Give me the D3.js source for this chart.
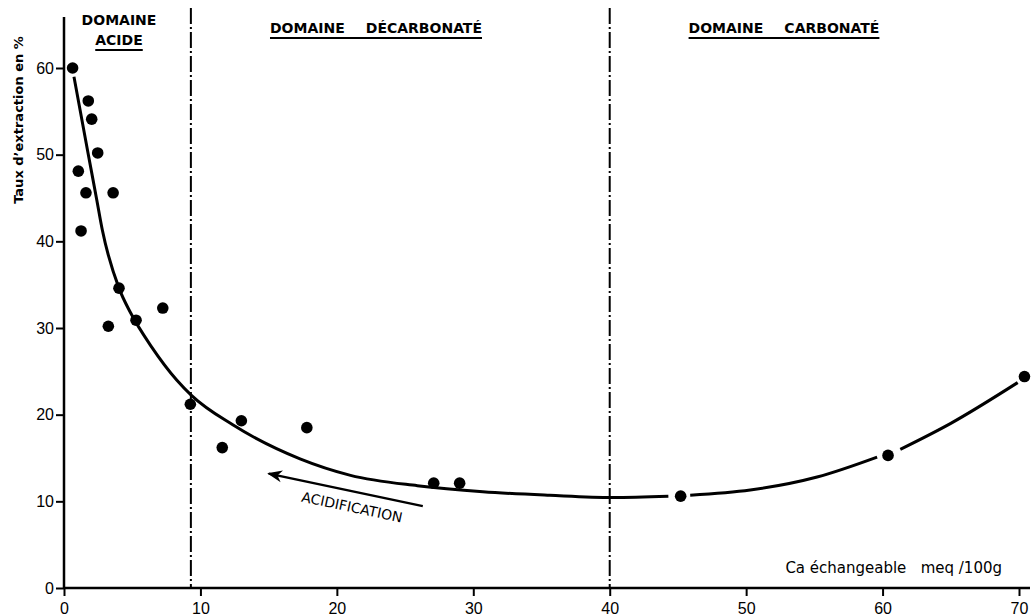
<!DOCTYPE html>
<html>
<head>
<meta charset="utf-8">
<script src="https://cdn.jsdelivr.net/npm/d3@7"></script>
<style>
  body { margin: 0; background: #fff; }
  svg { display: block; font-family: "DejaVu Sans", "Liberation Sans", sans-serif; }
</style>
</head>
<body>
<script>
(function() {
  'use strict';

  // measured points: Ca echangeable (meq/100g) and taux d'extraction (%)
  const caValues = [0.63, 1.78, 2.03, 2.47, 1.05, 1.61, 3.6, 1.25, 4.03, 3.25, 5.28, 7.24,
    9.26, 13.0, 11.6, 17.8, 27.1, 29.0, 45.2, 60.4, 70.4];
  const tauxValues = [60.0, 56.2, 54.1, 50.2, 48.1, 45.6, 45.6, 41.2, 34.6, 30.2, 30.9, 32.3,
    21.2, 19.3, 16.2, 18.5, 12.1, 12.1, 10.6, 15.3, 24.4];

  // fitted curve, split where the drawing leaves a gap around a point
  const curveSeg1 = [[0.73, 59.0], [1.76, 50.2], [2.4, 44.8], [2.81, 41.3],
    [4.03, 34.6], [4.9, 31.7], [6.43, 27.8], [8.26, 24.0], [9.36, 22.2], [12.4, 18.8],
    [17.3, 14.9], [21.0, 13.0], [25.9, 11.8], [30.7, 11.1], [35.6, 10.7],
    [40.2, 10.45], [44.3, 10.6]];
  const curveSeg2 = [[45.9, 10.7], [50.3, 11.3], [55.2, 12.8], [59.6, 15.1]];
  const curveSeg3 = [[61.3, 16.0], [65.0, 19.0], [69.9, 23.7]];

  const xTicks = [0, 10, 20, 30, 40, 50, 60, 70];
  const yTicks = [0, 10, 20, 30, 40, 50, 60];
  const domainLimits = [9.3, 40];
  const arrowFrom = [26.3, 9.45];
  const arrowTo = [15.0, 13.2];

  const w = 1032;
  const h = 616;

  const x = d3.scaleLinear().domain([0, 70]).range([64, 1019]);
  const y = d3.scaleLinear().domain([0, 60]).range([588, 68]);

  const svg = d3.select('body').append('svg')
    .attr('width', w)
    .attr('height', h);

  // axes
  const xAxis = d3.axisBottom(x).tickValues(xTicks).tickSize(8).tickSizeOuter(0);
  const gx = svg.append('g')
    .attr('transform', 'translate(0,' + y(0) + ')')
    .call(xAxis);
  gx.select('.domain').remove();
  gx.append('line')
    .attr('x1', x(0)).attr('x2', 1030)
    .attr('stroke', '#000').attr('stroke-width', 2.5);
  gx.selectAll('.tick line').attr('stroke-width', 2);
  gx.selectAll('.tick text')
    .attr('dy', '0.95em')
    .style('font-size', '16px')
    .style('fill', '#000');

  const yAxis = d3.axisLeft(y).tickValues(yTicks).tickSize(8).tickSizeOuter(0);
  const gy = svg.append('g')
    .attr('transform', 'translate(' + x(0) + ',0)')
    .call(yAxis);
  gy.select('.domain').remove();
  gy.append('line')
    .attr('y1', y(0)).attr('y2', 17)
    .attr('stroke', '#000').attr('stroke-width', 2.5);
  gy.selectAll('.tick line').attr('stroke-width', 2);
  gy.selectAll('.tick text')
    .attr('x', -10)
    .style('font-size', '16px')
    .style('fill', '#000');

  // domain separators (dash-dot)
  svg.selectAll('.sep')
    .data(domainLimits)
    .enter()
    .append('line')
    .attr('class', 'sep')
    .attr('x1', (d) => x(d)).attr('x2', (d) => x(d))
    .attr('y1', 8).attr('y2', y(0))
    .attr('stroke', '#000')
    .attr('stroke-width', 2)
    .attr('stroke-dasharray', '16,3,2,3');

  // curve
  const line = d3.line()
    .x((d) => x(d[0]))
    .y((d) => y(d[1]))
    .curve(d3.curveMonotoneX);
  svg.selectAll('.fit')
    .data([curveSeg1, curveSeg2, curveSeg3])
    .enter()
    .append('path')
    .attr('class', 'fit')
    .attr('d', line)
    .attr('fill', 'none')
    .attr('stroke', '#000')
    .attr('stroke-width', 3);

  // points
  svg.selectAll('.pt')
    .data(caValues.map((c, i) => [c, tauxValues[i]]))
    .enter()
    .append('circle')
    .attr('class', 'pt')
    .attr('cx', (d) => x(d[0]))
    .attr('cy', (d) => y(d[1]))
    .attr('r', 5.8)
    .attr('fill', '#000');

  // acidification arrow
  svg.append('defs').append('marker')
    .attr('id', 'head')
    .attr('viewBox', '0 0 10 10')
    .attr('refX', 9).attr('refY', 5)
    .attr('markerWidth', 6).attr('markerHeight', 6)
    .attr('orient', 'auto')
    .append('path')
    .attr('d', 'M0,1 L10,5 L0,9 L3,5 Z')
    .attr('fill', '#000');
  svg.append('line')
    .attr('x1', x(arrowFrom[0])).attr('y1', y(arrowFrom[1]))
    .attr('x2', x(arrowTo[0])).attr('y2', y(arrowTo[1]))
    .attr('stroke', '#000')
    .attr('stroke-width', 2.5)
    .attr('marker-end', 'url(#head)');
  const ang = Math.atan2(y(arrowFrom[1]) - y(arrowTo[1]), x(arrowFrom[0]) - x(arrowTo[0])) * 180 / Math.PI;
  svg.append('text')
    .attr('transform', 'translate(' + 351 + ',' + 512 + ') rotate(' + ang + ')')
    .attr('text-anchor', 'middle')
    .style('font-size', '14px')
    .text('ACIDIFICATION');

  // domain titles
  const titles = [
    {lines: ['DOMAINE', 'ACIDE'], cx: 119},
    {lines: ['DOMAINE\u2003\u2002DÉCARBONATÉ'], cx: 376},
    {lines: ['DOMAINE\u2003\u2002CARBONATÉ'], cx: 784}
  ];
  titles.forEach(function(t) {
    t.lines.forEach(function(txt, i) {
      const base = t.lines.length > 1 ? 25 + i * 20 : 33;
      const el = svg.append('text')
        .attr('x', t.cx).attr('y', base)
        .attr('text-anchor', 'middle')
        .style('font-size', '14px')
        .style('font-weight', 'bold')
        .text(txt);
      const bb = el.node().getBBox();
      if (i === t.lines.length - 1) {
        svg.append('line')
          .attr('x1', bb.x).attr('x2', bb.x + bb.width)
          .attr('y1', base + 5).attr('y2', base + 5)
          .attr('stroke', '#000').attr('stroke-width', 2);
      }
    });
  });

  // axis titles
  svg.append('text')
    .attr('transform', 'translate(23,120) rotate(-90)')
    .attr('text-anchor', 'middle')
    .style('font-size', '13px')
    .style('font-weight', 'bold')
    .text('Taux d\u2019extraction en %');

  svg.append('text')
    .attr('x', 1002).attr('y', 573)
    .attr('text-anchor', 'end')
    .style('font-size', '15px')
    .attr('xml:space', 'preserve')
    .text('Ca échangeable   meq /100g');
}());
</script>
</body>
</html>
